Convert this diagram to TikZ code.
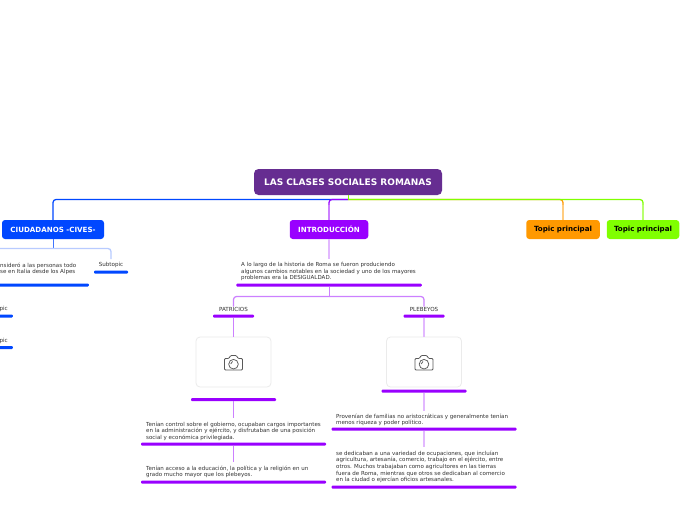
\documentclass[tikz,border=0pt]{standalone}
\usepackage{fontspec}
\setmainfont{DejaVu Sans}
\definecolor{rootc}{HTML}{662D91}
\definecolor{bluec}{HTML}{0047FF}
\definecolor{purc}{HTML}{9900FF}
\definecolor{orac}{HTML}{FF9900}
\definecolor{grnc}{HTML}{80FF00}
\definecolor{lblue}{HTML}{B8CBFF}
\definecolor{lpur}{HTML}{E2B8FF}
\definecolor{mpur}{HTML}{CC80FF}
\definecolor{lora}{HTML}{FFCC80}
\definecolor{lgrn}{HTML}{B8FF70}
\definecolor{txt}{HTML}{333333}
\tikzset{
 main/.style={rounded corners=3pt,inner sep=0pt,minimum height=19pt,font=\fontsize{7.1}{8.5}\selectfont\bfseries},
 rootbox/.style={main,fill=rootc,text=white,minimum width=188pt,minimum height=26pt,rounded corners=4.5pt,font=\fontsize{9}{10.5}\selectfont\bfseries},
 topicl/.style={inner sep=0pt,anchor=north west,align=left,text=txt,font=\fontsize{5.52}{6.55}\selectfont},
 topicc/.style={inner sep=0pt,text=txt,font=\fontsize{5.6}{6.5}\selectfont},
 pbar/.style={fill=purc,rounded corners=1pt,inner sep=0pt,minimum height=3pt},
 bbar/.style={fill=bluec,rounded corners=1pt,inner sep=0pt,minimum height=3pt},
 imgbox/.style={draw=black!8,fill=white,line width=0.8pt,rounded corners=4pt,inner sep=0pt,minimum width=75pt,minimum height=50pt},
 conn/.style={rounded corners=3pt,line width=1.25pt},
 thin link/.style={line width=1pt,draw=mpur},
 wide link/.style={line width=1.7pt,draw=lpur},
}
\begin{document}
\begin{tikzpicture}[x=1pt,y=-1pt]
\useasboundingbox[fill=white] (0,0) rectangle (696,520);
% main nodes
\node[rootbox] (root) at (348,182) {LAS CLASES SOCIALES ROMANAS};
\node[main,fill=bluec,text=white,minimum width=102pt] (cives) at (53,229.5) {CIUDADANOS -CIVES-};
\node[main,fill=purc,text=white,minimum width=78.5pt] (intro) at (329,229.5) {INTRODUCCIÓN};
\node[main,fill=orac,text=black,minimum width=73.5pt] (tora) at (563,229.5) {Topic principal};
\node[main,fill=grnc,text=black,minimum width=72.5pt] (tgrn) at (643,229.5) {Topic principal};
% free junctions
\coordinate (j0) at (348,199.5);
\coordinate (jc) at (53,248.5);
\coordinate (jcl) at (-10,248.5);
\coordinate (jcld) at (-10,258);
\coordinate (jcr) at (111,259);
\coordinate (ji) at (329,259);
\coordinate (jp) at (329,296.5);
% left branch
\node[topicc] (sub) at (111,265) {Subtopic};
\node[bbar,minimum width=34pt] (subb) at (111,272) {};
\node[topicl,anchor=north west] (civt) at (0,262.4) {nsideró a las personas todo\\se en Italia desde los Alpes};
\node[bbar,minimum width=99pt,anchor=east] (civb) at (89,285) {};
\node[topicc,anchor=east] (p1) at (8,309) {pic};
\node[bbar,minimum width=23pt,anchor=east] (p1b) at (13,316) {};
\node[topicc,anchor=east] (p2) at (8,341) {pic};
\node[bbar,minimum width=23pt,anchor=east] (p2b) at (13,347.5) {};
% intro text
\node[topicl] (itext) at (241,262.4) {A lo largo de la historia de Roma se fueron produciendo\\algunos cambios notables en la sociedad y uno de los mayores\\problemas era la DESIGUALDAD.};
\node[pbar,minimum width=185.5pt] (ibar) at (329,285) {};
\node[topicc] (pat) at (233.5,309) {PATRICIOS};
\node[pbar,minimum width=41pt] (patb) at (233.5,316) {};
\node[topicc] (ple) at (424,309) {PLEBEYOS};
\node[pbar,minimum width=41pt] (pleb) at (424,316) {};
% image boxes
\node[imgbox] (img1) at (233.5,362) {};
\node[pbar,minimum width=85pt] (img1b) at (233.5,399.5) {};
\node[imgbox] (img2) at (424,362) {};
\node[pbar,minimum width=85pt] (img2b) at (424,391) {};
% text left column
\coordinate (l1) at (233.5,418);
\node[topicl] (t1) at (146,421.4) {Tenían control sobre el gobierno, ocupaban cargos importantes\\en la administración y ejército, y disfrutaban de una posición\\social y económica privilegiada.};
\node[pbar,minimum width=185pt] (t1b) at (233.5,444) {};
\coordinate (l2) at (233.5,462);
\node[topicl] (t2) at (146,465.4) {Tenían acceso a la educación, la política y la religión en un\\grado mucho mayor que los plebeyos.};
\node[pbar,minimum width=185pt] (t2b) at (233.5,482) {};
% text right column
\coordinate (r1) at (424,411);
\node[topicl] (t3) at (336,413.4) {Provenían de familias no aristocráticas y generalmente tenían\\menos riqueza y poder político.};
\node[pbar,minimum width=185pt] (t3b) at (424,429) {};
\coordinate (r2) at (424,447);
\node[topicl] (t4) at (336,450.8) {se dedicaban a una variedad de ocupaciones, que incluían\\agricultura, artesanía, comercio, trabajo en el ejército, entre\\otros. Muchos trabajaban como agricultores en las tierras\\fuera de Roma, mientras que otros se dedicaban al comercio\\en la ciudad o ejercían oficios artesanales.};
\node[pbar,minimum width=185pt] (t4b) at (424,487) {};
% connectors: root
\draw[conn,draw=bluec] (j0) -| (cives.north);
\draw[conn,draw=orac] (j0) -| (tora.north);
\draw[conn,draw=grnc] (j0) -| (tgrn.north);
\draw[conn,draw=purc] (j0) -| (intro.north);
\draw[line width=1pt,draw=grnc] (root.south) -- (j0);
\draw[line width=1.3pt,draw=lora] ([yshift=15pt]tora.north) -- (tora.north);
\draw[line width=1.3pt,draw=lgrn] ([yshift=15pt]tgrn.north) -- (tgrn.north);
\draw[line width=1.3pt,draw=mpur] ([yshift=15pt]intro.north) -- (intro.north);
% connectors: left branch
\draw[line width=1pt,draw=bluec!75] (cives.south) -- (jc);
\draw[conn,line width=1.3pt,draw=lblue] (jcld) |- (jc) -| (jcr);
\draw[line width=1.5pt,draw=lpur] (intro.south) -- (ji);
% connectors: intro
\draw[line width=1pt,draw=mpur] (ibar.south) -- (jp);
\draw[conn,draw=mpur] (jp) -| (pat.north);
\draw[conn,draw=mpur] (jp) -| (ple.north);
\draw[thin link] (patb.south) -- (img1.north);
\draw[wide link] (pleb.south) -- (img2.north);
\draw[thin link] (img1b.south) -- (l1);
\draw[thin link] (t1b.south) -- (l2);
\draw[wide link] (img2b.south) -- (r1);
\draw[wide link] (t3b.south) -- (r2);
% cameras
\foreach \c in {img1,img2}{
 \begin{scope}[shift={(\c.center)},yshift=-1pt,draw=black!65,line width=0.75pt,line join=round]
  \draw[rounded corners=1pt] (-9,-4.5) -- (-4.5,-4.5) -- (-3,-7.5) -- (3,-7.5) -- (4.5,-4.5) -- (9,-4.5) -- (9,7) -- (-9,7) -- cycle;
  \draw (0,1.2) circle[radius=4.8];
  \draw (-2.8,1) arc[start angle=180,end angle=250,radius=2.8];
 \end{scope}
}
\end{tikzpicture}
\end{document}
